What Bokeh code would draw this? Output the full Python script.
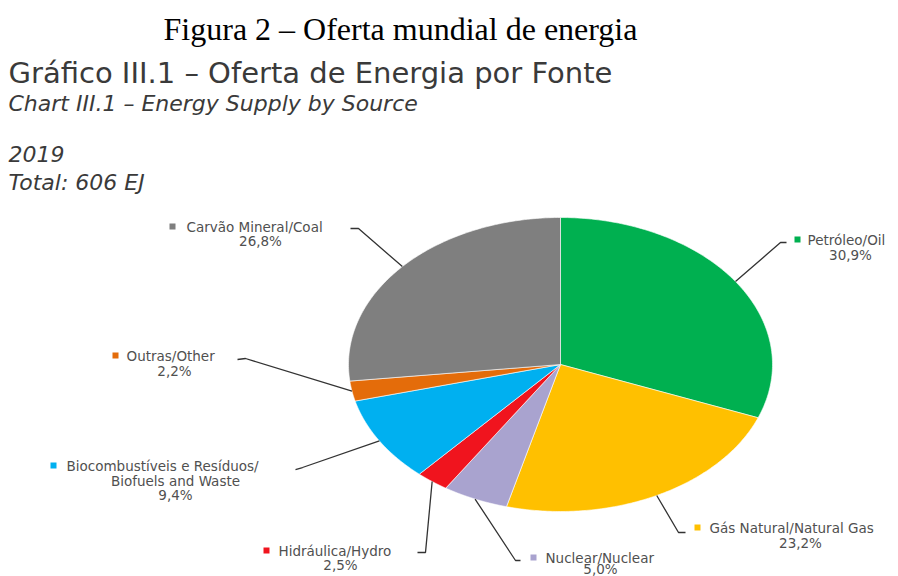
import numpy as np
from bokeh.plotting import figure
from bokeh.models import Range1d
from bokeh.core.properties import value
from bokeh.embed import file_html
from bokeh.resources import INLINE

# ---- data ----
sources_pt = ["Petróleo/Oil", "Gás Natural/Natural Gas", "Nuclear/Nuclear",
              "Hidráulica/Hydro", "Biocombustíveis  e Resíduos/", "Outras/Other",
              "Carvão Mineral/Coal"]
extra_lines = ["", "", "", "", "Biofuels and Waste", "", ""]
shares = [30.9, 23.2, 5.0, 2.5, 9.4, 2.2, 26.8]
colors = ["#00B050", "#FFC000", "#A9A3CF", "#F0141E", "#00B0F0", "#E46C0A", "#7F7F7F"]
year_label = "2019"
total_label = "Total: 606 EJ"

# ---- layout ----
W, H = 898, 576
cx, cy, rx, ry = 560, 364, 212, 147
lab = [
    dict(sq=(797, 239), tx=807, pc=(850, 254), elbow=[(780, 242), (786, 242)]),
    dict(sq=(697, 527), tx=709, pc=(800, 542), elbow=[(678, 532), (685, 532)]),
    dict(sq=(533, 557), tx=545, pc=(600, 568), elbow=[(515, 560), (520, 560)]),
    dict(sq=(266, 550), tx=278, pc=(340, 564), elbow=[(425, 552), (417, 552)]),
    dict(sq=(53, 465), tx=66, pc=(175, 494), elbow=[(302, 467), (295, 469)], ex=(175, 480)),
    dict(sq=(115, 355), tx=126, pc=(174, 370), elbow=[(245, 358), (237, 359)]),
    dict(sq=(172, 226), tx=186, pc=(260, 240), elbow=[(358, 228), (350, 228)]),
]

p = figure(width=W, height=H, x_range=Range1d(0, W), y_range=Range1d(H, 0),
           output_backend="svg", toolbar_location=None,
           x_axis_location=None, y_axis_location=None, min_border=0)
p.grid.visible = False
p.outline_line_color = None
p.background_fill_color = "white"

# ---- pie slices (elliptical) ----
total = sum(shares)
cum = np.cumsum([0] + shares) / total * 2 * np.pi
xs, ys, mids = [], [], []
for i in range(len(shares)):
    t = np.linspace(cum[i], cum[i + 1], 120)
    xs.append([cx] + list(cx + rx * np.sin(t)) + [cx])
    ys.append([cy] + list(cy - ry * np.cos(t)) + [cy])
    mids.append((cum[i] + cum[i + 1]) / 2)
p.patches(xs, ys, fill_color=colors, line_color="white", line_width=0.6)

# ---- leader lines ----
lx, ly = [], []
for m, L in zip(mids, lab):
    ax, ay = cx + rx * np.sin(m), cy - ry * np.cos(m)
    lx.append([ax] + [e[0] for e in L["elbow"]])
    ly.append([ay] + [e[1] for e in L["elbow"]])
p.multi_line(lx, ly, line_color="#333333", line_width=1.3)

# ---- labels ----
p.scatter([L["sq"][0] for L in lab], [L["sq"][1] for L in lab], marker="square",
          size=6, fill_color=colors, line_color=None)
lblfont = value("DejaVu Sans")
fs = "13.5px"
p.text([L["tx"] for L in lab], [L["sq"][1] for L in lab], text=sources_pt,
       text_font=lblfont, text_font_size=fs, text_color="#505050",
       text_align="left", text_baseline="middle")
pct = [f"{v:.1f}".replace(".", ",") + "%" for v in shares]
p.text([L["pc"][0] for L in lab], [L["pc"][1] for L in lab], text=pct,
       text_font=lblfont, text_font_size=fs, text_color="#505050",
       text_align="center", text_baseline="middle")
ex_idx = [i for i, s in enumerate(extra_lines) if s]
p.text([lab[i]["ex"][0] for i in ex_idx], [lab[i]["ex"][1] for i in ex_idx],
       text=[extra_lines[i] for i in ex_idx], text_font=lblfont, text_font_size=fs,
       text_color="#505050", text_align="center", text_baseline="middle")

# ---- titles ----
p.text([400], [28], text=["Figura 2 – Oferta mundial de energia"],
       text_font=value("Liberation Serif"), text_font_size="32px", text_color="#000000",
       text_align="center", text_baseline="middle")
p.text([8], [72], text=["Gráfico III.1 – Oferta de Energia por Fonte"],
       text_font=value("DejaVu Sans"), text_font_size="29px", text_color="#3a3a3a",
       text_align="left", text_baseline="middle")
p.text([8, 8, 8], [103, 153, 182],
       text=["Chart III.1 – Energy Supply by Source", year_label, total_label],
       text_font=value("DejaVu Sans"), text_font_size="22px", text_font_style="italic",
       text_color="#3a3a3a", text_align="left", text_baseline="middle")

open("out.html", "w").write(file_html(p, INLINE))
